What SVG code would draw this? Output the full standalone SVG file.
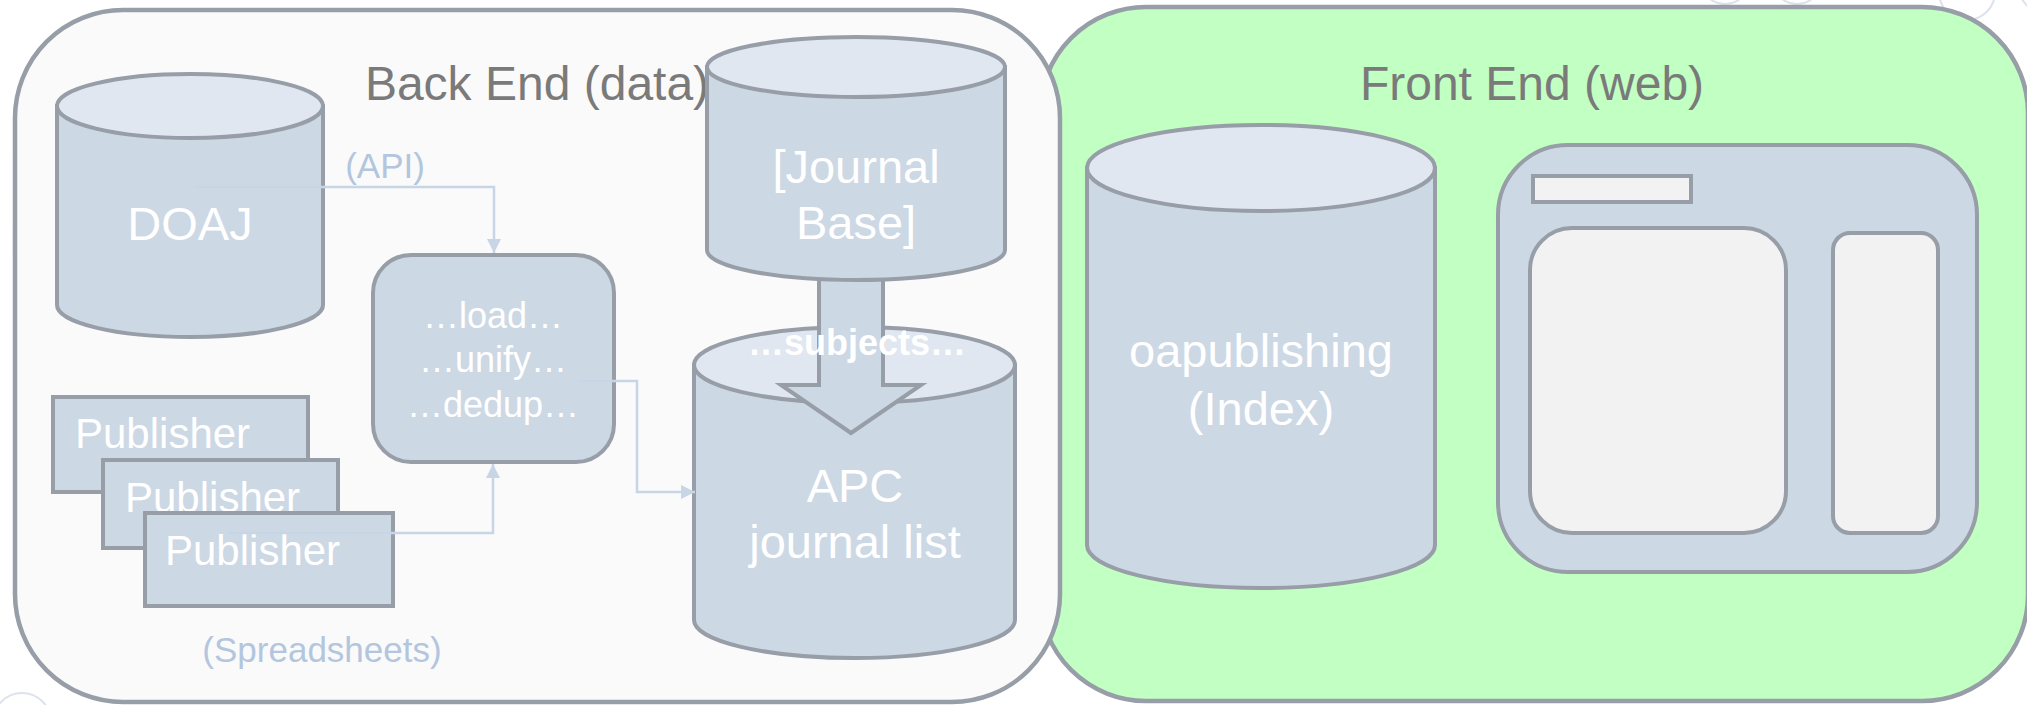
<svg xmlns="http://www.w3.org/2000/svg" width="2027" height="705" viewBox="0 0 2027 705">
  <style>
    .frame { stroke: #979ea8; stroke-width: 4.5; }
    .shape { fill: #cdd8e5; stroke: #979ea8; stroke-width: 4; }
    .top { fill: #e0e7f0; stroke: #979ea8; stroke-width: 4; }
    .pane { fill: #f2f2f2; stroke: #979ea8; stroke-width: 4; }
    .deco { fill: none; stroke: #dde3ec; stroke-width: 2; }
    .title { font-family: "Liberation Sans", Arial, sans-serif; font-size: 48px; fill: #7a7a7a; text-anchor: middle; }
    .big { font-family: "Liberation Sans", Arial, sans-serif; font-size: 47px; fill: #ffffff; text-anchor: middle; }
    .pub { font-family: "Liberation Sans", Arial, sans-serif; font-size: 42px; fill: #ffffff; }
    .proc { font-family: "Liberation Sans", Arial, sans-serif; font-size: 36px; fill: #ffffff; text-anchor: middle; }
    .note { font-family: "Liberation Sans", Arial, sans-serif; font-size: 35px; fill: #b3c6de; text-anchor: middle; }
    .bold { font-family: "Liberation Sans", Arial, sans-serif; font-size: 36px; font-weight: bold; fill: #ffffff; text-anchor: middle; }
    .conn { fill: none; stroke: #c8d5e5; stroke-width: 2.5; marker-end: url(#arrow); }
  </style>
  <defs>
    <marker id="arrow" markerUnits="userSpaceOnUse" markerWidth="16" markerHeight="16" refX="14" refY="7" orient="auto">
      <path d="M0,0 L14,7 L0,14 Z" fill="#c8d5e5"/>
    </marker>
  </defs>

  <rect width="2027" height="705" fill="#ffffff"/>

  <g id="decor">
    <circle class="deco" cx="1725" cy="-21" r="25"/>
    <circle class="deco" cx="1797" cy="-21" r="25"/>
    <circle class="deco" cx="1967" cy="-8" r="28"/>
    <circle class="deco" cx="2048" cy="-16" r="30"/>
    <circle class="deco" cx="22" cy="722" r="29"/>
  </g>

  <g id="front-end">
    <rect class="frame" x="1040" y="7" width="988" height="694" rx="106" ry="106" fill="#c2ffc2"/>
    <text class="title" x="1532" y="100">Front End (web)</text>
  </g>

  <g id="back-end">
    <rect class="frame" x="15" y="10" width="1045" height="692" rx="108" ry="108" fill="#fafafa"/>
    <text class="title" x="537" y="100">Back End (data)</text>
  </g>

  <g id="doaj">
    <path class="shape" d="M57,106 V305 A133,32 0 0 0 323,305 V106 Z"/>
    <ellipse class="top" cx="190" cy="106" rx="133" ry="32"/>
    <text class="big" x="190" y="240">DOAJ</text>
  </g>

  <g id="publisher-1">
    <rect class="shape" x="53" y="397" width="255" height="95"/>
    <text class="pub" x="75" y="448">Publisher</text>
  </g>
  <g id="publisher-2">
    <rect class="shape" x="103" y="460" width="235" height="88"/>
    <text class="pub" x="125" y="512">Publisher</text>
  </g>
  <g id="publisher-3">
    <rect class="shape" x="145" y="513" width="248" height="93"/>
    <text class="pub" x="165" y="565">Publisher</text>
  </g>

  <g id="process">
    <rect class="shape" x="373" y="255" width="241" height="207" rx="38" ry="38"/>
    <text class="proc" x="493" y="328">…load…</text>
    <text class="proc" x="493" y="372">…unify…</text>
    <text class="proc" x="493" y="417">…dedup…</text>
  </g>

  <g id="apc">
    <path class="shape" d="M694,365 V620 A160.5,38 0 0 0 1015,620 V365 Z"/>
    <ellipse class="top" cx="854.5" cy="365" rx="160.5" ry="38"/>
    <text class="big" x="855" y="502">APC</text>
    <text class="big" x="855" y="558">journal list</text>
  </g>

  <g id="subjects-arrow">
    <path class="shape" d="M819,245 H883 V385 H921 L851,433 L781,385 H819 Z"/>
  </g>

  <g id="journal-base">
    <path class="shape" d="M707,67 V250 A149,30 0 0 0 1005,250 V67 Z"/>
    <ellipse class="top" cx="856" cy="67" rx="149" ry="30"/>
    <text class="big" x="856" y="183">[Journal</text>
    <text class="big" x="856" y="239">Base]</text>
  </g>

  <text class="bold" x="857" y="355">…subjects…</text>

  <g id="oapublishing">
    <path class="shape" d="M1087,168 V545 A174,43 0 0 0 1435,545 V168 Z"/>
    <ellipse class="top" cx="1261" cy="168" rx="174" ry="43"/>
    <text class="big" x="1261" y="367">oapublishing</text>
    <text class="big" x="1261" y="425">(Index)</text>
  </g>

  <g id="web-ui">
    <rect class="shape" x="1498" y="145" width="479" height="427" rx="70" ry="70"/>
    <rect class="pane" x="1533" y="176" width="158" height="26"/>
    <rect class="pane" x="1530" y="228" width="256" height="305" rx="42" ry="42"/>
    <rect class="pane" x="1833" y="233" width="105" height="300" rx="17" ry="17"/>
  </g>

  <g id="connectors">
    <path class="conn" d="M194,187 H494 V253"/>
    <path class="conn" d="M228,533 H493 V464"/>
    <path class="conn" d="M578,381 H637 V492 H695"/>
    <text class="note" x="385" y="178">(API)</text>
    <text class="note" x="322" y="662">(Spreadsheets)</text>
  </g>
</svg>
